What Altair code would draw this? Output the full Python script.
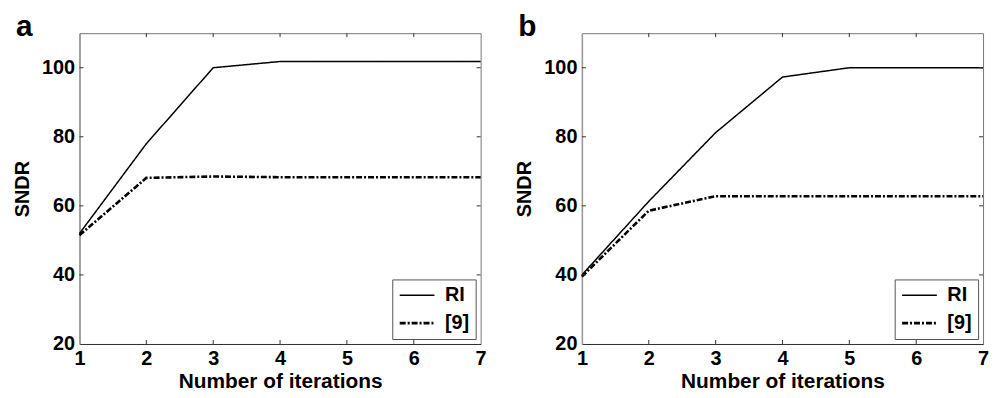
import altair as alt
import pandas as pd

iters = [1, 2, 3, 4, 5, 6, 7]
ri_a = [52, 78, 100, 101.8, 101.8, 101.8, 101.8]
ref_a = [51.5, 68.1, 68.5, 68.3, 68.3, 68.3, 68.3]
ri_b = [40, 61.3, 81.2, 97.3, 100, 100, 100]
ref_b = [39.5, 58.6, 62.8, 62.8, 62.8, 62.8, 62.8]
methods = ["RI", "[9]"]
y_ticks = [40, 60, 80, 100]
x_ticks = [2, 3, 4, 5, 6]

W, H = 404, 313
FONT = "Liberation Sans"


def panel(label, ri, ref):
    df = pd.DataFrame({
        "iter": iters * 2,
        "SNDR": ri + ref,
        "method": [methods[0]] * len(iters) + [methods[1]] * len(iters),
    })
    xs = alt.Scale(domain=[1, 7], nice=False)
    ys = alt.Scale(domain=[20, 110], nice=False)
    lines = alt.Chart(df).mark_line(color="black").encode(
        x=alt.X("iter:Q", scale=xs, title="Number of iterations",
                axis=alt.Axis(values=iters, format="d", domainColor="#333",
                              domainWidth=1.2)),
        y=alt.Y("SNDR:Q", scale=ys, title="SNDR",
                axis=alt.Axis(values=[20, 40, 60, 80, 100], domainColor="#999",
                              domainWidth=1.5)),
        strokeDash=alt.StrokeDash(
            "method:N",
            scale=alt.Scale(domain=methods, range=[[1, 0], [6, 2, 2, 2]]),
            legend=alt.Legend(title=None, orient="bottom-right"),
        ),
        strokeWidth=alt.StrokeWidth(
            "method:N",
            scale=alt.Scale(domain=methods, range=[1.5, 2.6]),
            legend=None,
        ),
    )
    ydf = pd.DataFrame({"SNDR": y_ticks})
    xdf = pd.DataFrame({"iter": x_ticks})
    yl = alt.Chart(ydf).mark_rule(color="#333").encode(
        y=alt.Y("SNDR:Q", scale=ys), x=alt.value(0), x2=alt.value(4))
    yr = alt.Chart(ydf).mark_rule(color="#333").encode(
        y=alt.Y("SNDR:Q", scale=ys), x=alt.value(W - 4), x2=alt.value(W))
    xb = alt.Chart(xdf).mark_rule(color="#333").encode(
        x=alt.X("iter:Q", scale=xs), y=alt.value(H - 4), y2=alt.value(H))
    xt = alt.Chart(xdf).mark_rule(color="#333").encode(
        x=alt.X("iter:Q", scale=xs), y=alt.value(0), y2=alt.value(4))
    return alt.layer(lines, yl, yr, xb, xt).properties(
        width=W, height=H,
        title=alt.TitleParams(label, anchor="start", frame="group", fontSize=30,
                              fontWeight="bold", font=FONT, dx=-64, offset=-33,
                              baseline="alphabetic"),
    )


chart = alt.hconcat(
    panel("a", ri_a, ref_a), panel("b", ri_b, ref_b), spacing=27
).resolve_legend(strokeDash="independent").resolve_scale(
    strokeDash="independent", strokeWidth="independent"
).properties(
    padding={"left": 4, "top": 2, "right": 0, "bottom": 0}
).configure_view(
    stroke="#777", strokeWidth=1
).configure_axis(
    ticks=False, grid=False, labelFont=FONT, labelFontSize=20,
    labelFontWeight="bold", labelColor="black", labelPadding=5,
    labelFlush=False, titleFont=FONT, titleFontWeight="bold",
    titleColor="black", labelOverlap=False,
).configure_axisY(
    titlePadding=9, titleFontSize=20
).configure_axisX(
    titlePadding=2, labelPadding=5, titleFontSize=21
).configure_legend(
    strokeColor="#555", fillColor="white", padding=6, offset=5,
    labelFont=FONT, labelFontSize=20, labelFontWeight="bold", labelColor="black",
    symbolType="stroke", symbolSize=1225, symbolStrokeColor="black",
    symbolStrokeWidth=2, rowPadding=8, labelOffset=9, cornerRadius=0,
    clipHeight=20,
)

chart.save("out.html", embed_options={"renderer": "svg", "actions": False})
